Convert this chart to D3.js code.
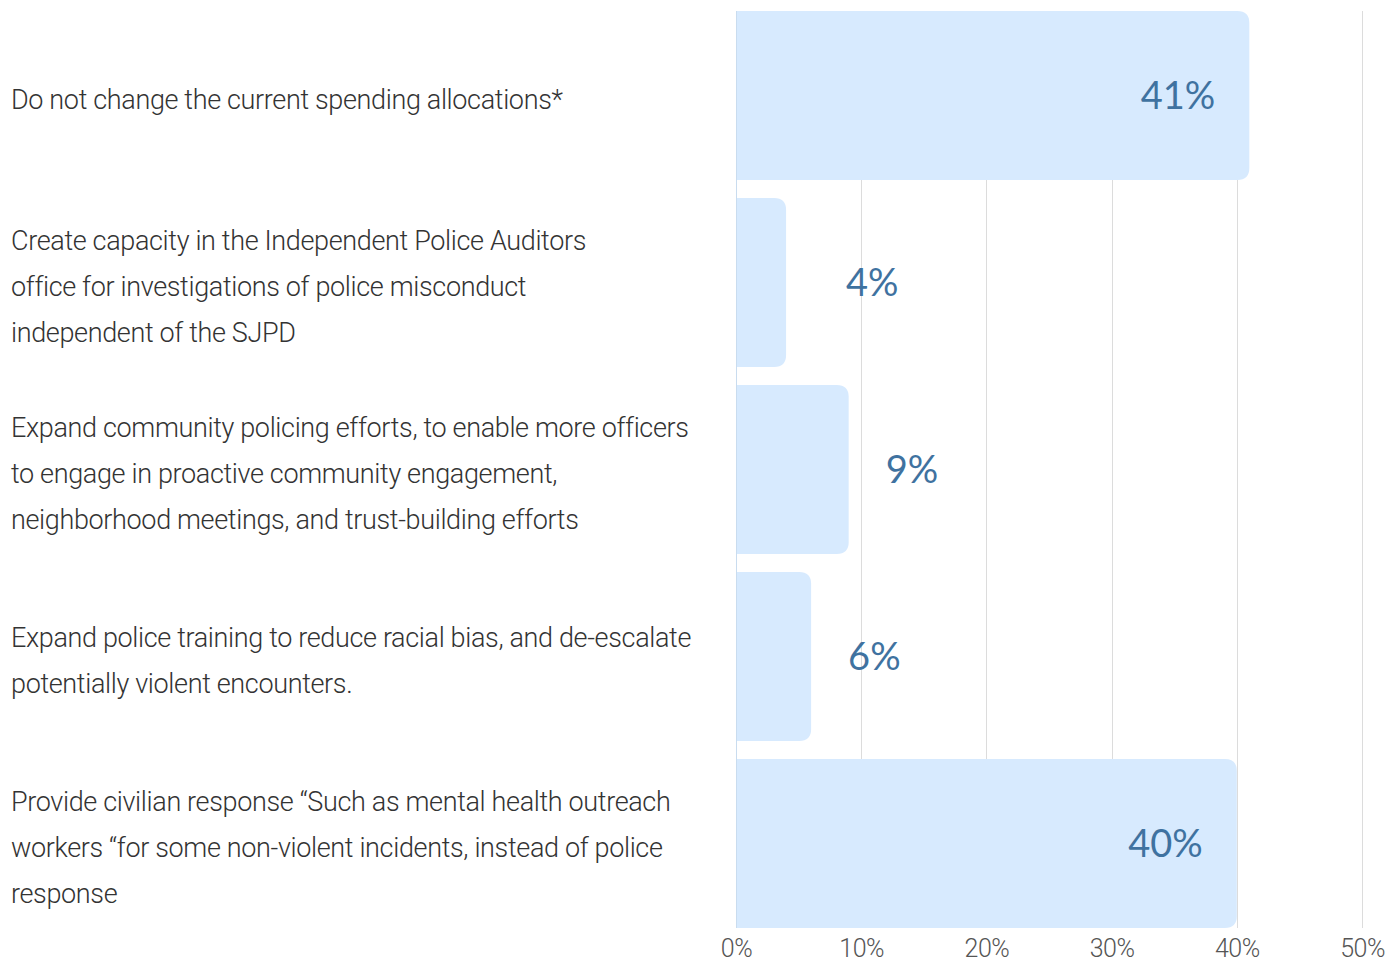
<!DOCTYPE html>
<html>
<head>
<meta charset="utf-8">
<script src="https://cdn.jsdelivr.net/npm/d3@7/dist/d3.min.js"></script>
<style>
  html, body { margin: 0; padding: 0; background: #fff; }
  svg { display: block; }
  .cat { font-family: Roboto, sans-serif; font-weight: 300; font-size: 27px; letter-spacing: -0.35px; fill: #333; }
  .tick-label { font-family: Roboto, sans-serif; font-weight: 300; font-size: 25px; letter-spacing: -0.5px; fill: #555; }
  .val { font-family: Lato, sans-serif; font-weight: 400; font-size: 38px; fill: #3f72a0; }
</style>
</head>
<body>
<svg id="chart" width="1398" height="965"></svg>
<script>
// Survey options (each wrapped into display lines) and share of responses
const categories = [
  ["Do not change the current spending allocations*"],
  ["Create capacity in the Independent Police Auditors", "office for investigations of police misconduct", "independent of the SJPD"],
  ["Expand community policing efforts, to enable more officers", "to engage in proactive community engagement,", "neighborhood meetings, and trust-building efforts"],
  ["Expand police training to reduce racial bias, and de-escalate", "potentially violent encounters."],
  ["Provide civilian response \u201cSuch as mental health outreach", "workers \u201cfor some non-violent incidents, instead of police", "response"]
];
const values = [41, 4, 9, 6, 40];
const tickValues = [0, 10, 20, 30, 40, 50];
const tickLabels = ["0%", "10%", "20%", "30%", "40%", "50%"];

const svg = d3.select("#chart");
const plot = { left: 736, right: 1362, top: 11, bottom: 928 };

const x = d3.scaleLinear().domain([0, 50]).range([plot.left, plot.right]);
const y = d3.scaleBand()
  .domain(d3.range(values.length))
  .range([plot.top, plot.bottom])
  .paddingInner(18 / 187)
  .paddingOuter(0);

// Vertical gridlines
svg.append("g").selectAll("line")
  .data(tickValues.slice(1))
  .join("line")
  .attr("x1", d => Math.round(x(d)) + 0.5)
  .attr("x2", d => Math.round(x(d)) + 0.5)
  .attr("y1", plot.top)
  .attr("y2", plot.bottom)
  .attr("stroke", "#dcdcdc")
  .attr("stroke-width", 1);

// Bars: square on the baseline, rounded at the value end
const r = 12;
function barPath(v, i) {
  const x0 = x(0), x1 = x(v), y0 = y(i), h = y.bandwidth();
  const rr = Math.min(r, (x1 - x0) / 2, h / 2);
  return `M${x0},${y0}H${x1 - rr}Q${x1},${y0} ${x1},${y0 + rr}` +
         `V${y0 + h - rr}Q${x1},${y0 + h} ${x1 - rr},${y0 + h}H${x0}Z`;
}
svg.append("g").selectAll("path")
  .data(values)
  .join("path")
  .attr("d", (d, i) => barPath(d, i))
  .attr("fill", "#d7eafe");

// Baseline at 0%
svg.append("line")
  .attr("x1", x(0) + 0.5).attr("x2", x(0) + 0.5)
  .attr("y1", plot.top).attr("y2", plot.bottom)
  .attr("stroke", "#c9dcef").attr("stroke-width", 1);

// Value labels: inside long bars, beside short ones
svg.append("g").selectAll("text")
  .data(values)
  .join("text")
  .attr("class", "val")
  .attr("y", (d, i) => y(i) + y.bandwidth() / 2 + 13)
  .attr("x", d => d >= 20 ? x(d) - 34 : Math.max(x(d) + 37, x(0) + 110))
  .attr("text-anchor", d => d >= 20 ? "end" : "start")
  .text(d => d + "%");

// Category labels, block centred on each bar
const lineH = 46;
const catG = svg.append("g");
categories.forEach((lines, i) => {
  const cy = y(i) + y.bandwidth() / 2 + 4;
  const t = catG.append("text").attr("class", "cat").attr("x", 11);
  lines.forEach((ln, j) => {
    t.append("tspan")
      .attr("x", 11)
      .attr("y", cy + (j - (lines.length - 1) / 2) * lineH + 9)
      .text(ln);
  });
});

// Axis tick labels
const axis = d3.axisBottom(x)
  .tickValues(tickValues)
  .tickFormat((d, i) => tickLabels[i])
  .tickSize(0)
  .tickPadding(0);
const ax = svg.append("g")
  .attr("transform", `translate(0, ${plot.bottom + 11})`)
  .call(axis);
ax.select(".domain").remove();
ax.selectAll("text").attr("class", "tick-label").attr("fill", null)
  .attr("font-family", null).attr("font-size", null);
ax.attr("font-family", null).attr("font-size", null);
</script>
</body>
</html>
